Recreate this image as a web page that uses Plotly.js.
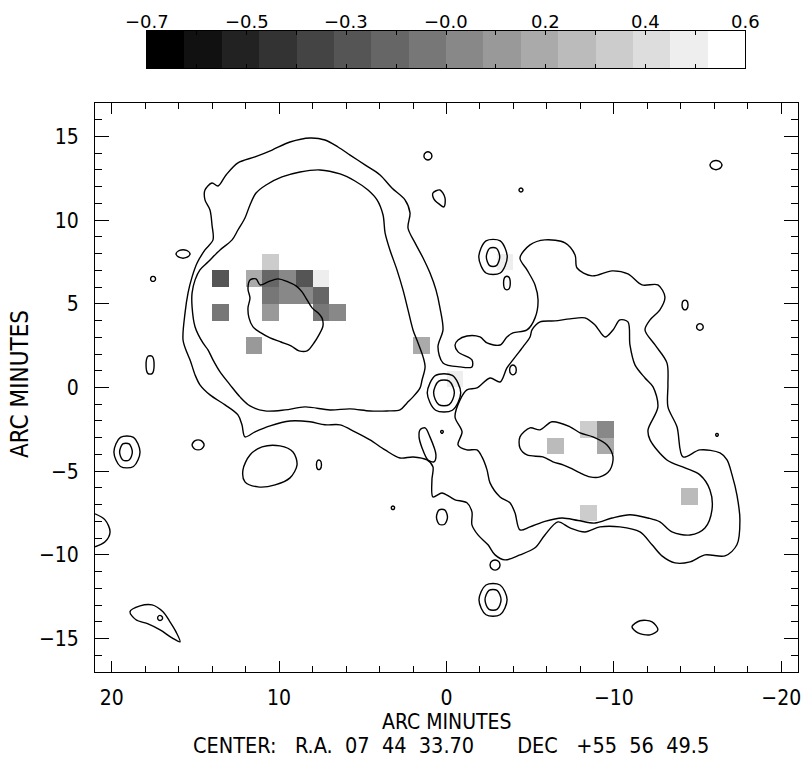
<!DOCTYPE html>
<html>
<head>
<meta charset="utf-8">
<script src="https://cdn.plot.ly/plotly-3.0.1.min.js"></script>
<style>
html,body{margin:0;padding:0;background:#fff;}
#chart{width:804px;height:758px;}
</style>
</head>
<body>
<div id="chart"></div>
<script>
// Grey wedge: 16 equal steps from black to white between levelMin and levelMax
const levelMin = -0.7;
const levelMax = 0.6;
const levelGreys = ['#000000','#111111','#222222','#333333','#444444','#555555','#666666','#777777',
                    '#888888','#999999','#aaaaaa','#bbbbbb','#cccccc','#dddddd','#eeeeee','#ffffff'];
const wedgeTickValues = [-0.7, -0.48333, -0.26667, -0.05, 0.16667, 0.38333, 0.6];
const wedgeTickLabels = ['\u22120.7','\u22120.5','\u22120.3','\u22120.0','0.2','0.4','0.6'];

// Map pixels (1 arcmin cells): centre offsets in arc minutes and value
const pixelX = [13.5, 13.5, 11.5, 10.5, 10.5, 9.5, 8.5, 7.5, 10.5, 9.5, 8.5, 7.5, 10.5, 7.5, 6.5, 11.5,
                1.5, -0.5, -3.5, -6.5, -8.5, -9.5, -9.5, -8.5, -14.5];
const pixelY = [6.5, 4.5, 6.5, 7.5, 6.5, 6.5, 6.5, 6.5, 5.5, 5.5, 5.5, 5.5, 4.5, 4.5, 4.5, 2.5,
                2.5, 0.5, 7.5, -3.5, -2.5, -2.5, -3.5, -7.5, -6.5];
const pixelValue = [-0.25, -0.09, 0.15, 0.32, -0.17, -0.01, -0.25, 0.48, -0.09, -0.01, -0.01, -0.17, 0.07, -0.09, -0.01, 0.07,
                    0.15, 0.48, 0.48, 0.23, 0.32, -0.01, 0.15, 0.32, 0.23];

// Contour paths, [x, y] in arc minutes (x = RA offset, east positive)
const outerContour = [[14.43,11.80],[14.01,12.22],[13.65,12.04],[13.17,12.70],[12.46,13.42],[11.44,13.78],[10.42,14.19],[9.35,14.67],[8.15,14.91],[7.26,14.79],[6.48,14.37],[5.76,13.89],[4.87,13.30],[3.97,12.70],[3.26,11.92],[2.48,11.21],[2.18,10.43],[2.30,9.53],[1.88,8.64],[1.40,7.74],[0.99,6.85],[0.63,5.83],[0.39,4.76],[0.21,3.44],[0.51,2.43],[0.21,1.47],[-0.81,1.23],[-1.52,1.23],[-1.52,1.65],[-0.69,2.13],[-0.51,2.54],[-0.69,2.84],[-1.22,3.08],[-2.00,3.02],[-2.42,2.66],[-3.20,2.54],[-3.61,3.02],[-3.97,3.26],[-4.81,3.44],[-5.29,4.16],[-5.47,5.23],[-5.29,6.13],[-4.81,7.03],[-4.39,7.74],[-4.99,8.52],[-5.88,8.82],[-7.08,8.64],[-7.68,7.92],[-7.80,7.14],[-8.69,6.67],[-9.89,6.97],[-10.84,6.79],[-11.68,6.13],[-12.63,6.13],[-13.05,5.41],[-12.75,4.64],[-12.16,4.04],[-11.86,3.44],[-12.46,2.54],[-13.17,1.47],[-13.23,0.16],[-13.23,-1.16],[-13.77,-2.35],[-14.13,-4.15],[-15.14,-3.73],[-16.34,-3.91],[-16.76,-4.33],[-17.06,-5.22],[-17.35,-6.42],[-17.53,-7.91],[-17.35,-9.40],[-16.64,-10.06],[-15.44,-10.00],[-14.55,-10.42],[-13.65,-10.48],[-12.87,-10.06],[-12.28,-9.40],[-11.56,-8.63],[-10.36,-8.33],[-9.17,-8.33],[-8.27,-8.63],[-7.38,-8.39],[-6.66,-8.03],[-5.88,-8.81],[-5.29,-9.58],[-4.39,-10.00],[-3.49,-10.30],[-2.90,-10.00],[-2.48,-9.40],[-1.88,-8.81],[-1.52,-8.21],[-1.52,-7.43],[-1.22,-6.89],[-0.51,-6.71],[-0.21,-6.54],[0.27,-6.30],[0.81,-6.54],[0.87,-5.52],[0.81,-4.74],[1.16,-4.33],[2.00,-4.15],[2.78,-4.21],[3.67,-3.73],[4.57,-3.13],[5.47,-2.65],[6.36,-2.23],[7.26,-2.23],[8.15,-2.05],[9.35,-2.00],[10.54,-2.29],[11.44,-2.65],[12.04,-2.95],[12.22,-2.23],[12.46,-1.64],[13.23,-1.04],[14.13,-0.44],[14.73,0.16],[15.02,0.75],[15.32,1.65],[15.50,2.07],[15.74,2.84],[15.62,4.46],[15.44,5.65],[15.20,6.61],[14.90,7.44],[14.43,8.22],[13.95,8.82],[14.01,9.71],[14.13,10.61],[14.43,11.21]];

const eastMiddle = [[12.81,8.82],[13.53,8.22],[14.25,7.50],[14.73,7.03],[15.02,6.43],[15.20,5.65],[15.20,4.81],[15.02,3.62],[14.55,2.66],[14.25,2.25],[13.95,1.65],[13.53,0.93],[12.93,0.16],[12.34,-0.56],[11.74,-1.10],[10.84,-1.40],[9.65,-1.34],[8.45,-1.16],[6.96,-1.34],[5.76,-1.28],[4.57,-1.40],[3.55,-1.40],[2.78,-1.34],[2.36,-0.92],[2.00,-0.56],[1.58,-0.02],[1.46,0.45],[1.28,1.23],[1.40,1.83],[1.70,2.66],[2.00,3.44],[2.30,4.64],[2.60,5.83],[2.96,7.03],[3.38,8.22],[3.67,9.24],[3.79,10.31],[4.15,11.21],[4.69,11.80],[5.47,12.34],[6.36,12.76],[7.56,13.00],[8.75,12.88],[9.83,12.58],[10.78,12.10],[11.38,11.62],[11.74,10.91],[12.04,10.13],[12.46,9.41]];

const eastInner = [[11.74,6.43],[11.38,6.49],[11.14,6.13],[10.66,6.31],[10.07,6.49],[9.47,6.31],[8.99,6.07],[8.63,5.71],[8.33,5.23],[8.03,4.76],[7.68,4.46],[7.44,4.16],[7.38,3.68],[7.62,3.14],[7.92,2.66],[8.33,2.19],[8.81,2.19],[9.29,2.49],[9.89,2.72],[10.54,2.96],[11.08,3.26],[11.56,3.62],[11.80,4.16],[11.86,4.76],[11.74,5.35],[11.86,5.89]];

const westMiddle = [[-5.11,3.44],[-5.59,3.92],[-6.48,3.98],[-7.38,4.10],[-8.27,4.16],[-8.87,3.74],[-9.47,3.02],[-9.95,3.44],[-10.36,4.04],[-10.84,3.92],[-10.96,2.54],[-11.26,1.35],[-11.86,0.57],[-12.34,0.04],[-12.63,-1.16],[-12.04,-2.53],[-12.16,-3.13],[-13.17,-4.33],[-14.25,-4.80],[-15.14,-5.22],[-15.74,-6.12],[-15.86,-7.31],[-15.44,-8.39],[-14.55,-8.81],[-13.47,-8.63],[-12.75,-8.03],[-12.04,-7.80],[-10.96,-7.60],[-9.89,-7.80],[-8.87,-8.10],[-7.86,-7.95],[-6.90,-7.80],[-5.88,-8.00],[-4.99,-8.33],[-4.39,-8.51],[-4.09,-7.49],[-3.79,-6.89],[-3.20,-6.54],[-2.60,-5.70],[-2.42,-4.92],[-2.12,-4.15],[-1.82,-3.73],[-1.22,-3.73],[-0.69,-3.43],[-0.93,-2.65],[-0.51,-1.76],[-0.81,-0.74],[-1.22,-0.14],[-1.82,-0.02],[-2.60,0.57],[-3.20,0.33],[-3.61,1.17],[-3.97,1.65],[-4.57,2.43],[-4.99,3.02]];

const westInner = [[-4.39,-2.95],[-4.99,-2.41],[-5.59,-2.53],[-6.30,-2.05],[-7.38,-2.35],[-7.98,-2.71],[-8.75,-2.95],[-9.59,-3.43],[-9.95,-4.15],[-9.77,-4.92],[-9.17,-5.34],[-8.57,-5.34],[-7.98,-5.10],[-7.38,-4.80],[-6.96,-4.62],[-6.36,-4.44],[-5.76,-4.15],[-4.81,-4.03],[-4.39,-3.61]];

// Small isolated contour islands
const islands = [
  [[1.35,13.84],[1.23,14.05],[0.99,14.05],[0.87,13.84],[0.99,13.63],[1.23,13.63]],
  [[0.81,11.62],[0.39,11.80],[0.09,11.33],[0.15,10.79],[0.45,10.97],[0.75,11.26]],
  [[-4.33,11.80],[-4.39,11.90],[-4.51,11.90],[-4.57,11.80],[-4.51,11.70],[-4.39,11.70]],
  [[-15.74,13.29],[-15.92,13.52],[-16.28,13.52],[-16.46,13.29],[-16.28,13.06],[-15.92,13.06]],
  [[16.16,7.98],[15.95,8.19],[15.53,8.19],[15.32,7.98],[15.53,7.77],[15.95,7.77]],
  [[17.68,6.49],[17.61,6.62],[17.46,6.62],[17.38,6.49],[17.46,6.36],[17.61,6.36]],
  [[17.95,1.35],[17.83,1.87],[17.59,1.87],[17.47,1.35],[17.59,0.83],[17.83,0.83]],
  [[19.87,-3.85],[19.48,-2.98],[18.70,-2.98],[18.31,-3.85],[18.70,-4.72],[19.48,-4.72]],
  [[19.53,-3.85],[19.34,-3.37],[18.96,-3.37],[18.77,-3.85],[18.96,-4.33],[19.34,-4.33]],
  [[15.20,-3.43],[15.02,-3.17],[14.66,-3.17],[14.48,-3.43],[14.66,-3.69],[15.02,-3.69]],
  [[7.77,-4.62],[7.70,-4.36],[7.55,-4.36],[7.47,-4.62],[7.55,-4.88],[7.70,-4.88]],
  [[3.30,-7.19],[3.25,-7.10],[3.15,-7.10],[3.10,-7.19],[3.15,-7.28],[3.25,-7.28]],
  [[18.91,-13.40],[18.31,-13.05],[17.59,-12.99],[16.94,-13.40],[16.52,-14.00],[16.16,-14.60],[15.92,-15.20],[16.40,-14.96],[17.11,-14.48],[17.83,-14.12],[18.55,-13.88]],
  [[17.26,-13.77],[17.19,-13.64],[17.04,-13.64],[16.96,-13.77],[17.04,-13.90],[17.19,-13.90]],
  [[-1.94,-12.69],[-2.36,-11.80],[-3.20,-11.80],[-3.62,-12.69],[-3.20,-13.58],[-2.36,-13.58]],
  [[-2.30,-12.69],[-2.54,-12.12],[-3.02,-12.12],[-3.26,-12.69],[-3.02,-13.26],[-2.54,-13.26]],
  [[-2.60,-10.61],[-2.75,-10.35],[-3.05,-10.35],[-3.20,-10.61],[-3.05,-10.87],[-2.75,-10.87]],
  [[-11.08,-14.30],[-11.56,-13.94],[-12.28,-14.00],[-12.63,-14.48],[-12.16,-14.78],[-11.44,-14.66]],
  [[-14.07,4.93],[-14.16,5.19],[-14.34,5.19],[-14.43,4.93],[-14.34,4.67],[-14.16,4.67]],
  [[-14.94,3.62],[-15.04,3.79],[-15.24,3.79],[-15.34,3.62],[-15.24,3.45],[-15.04,3.45]],
  [[-16.08,-2.83],[-16.12,-2.76],[-16.20,-2.76],[-16.24,-2.83],[-16.20,-2.90],[-16.12,-2.90]],
  [[12.16,-4.92],[11.74,-4.03],[11.02,-3.55],[9.95,-3.49],[9.17,-3.85],[8.93,-4.62],[9.35,-5.40],[10.24,-5.82],[11.26,-5.94],[12.04,-5.64]],
  [[-3.41,6.24],[-3.51,6.61],[-3.71,6.61],[-3.81,6.24],[-3.71,5.87],[-3.51,5.87]],
  [[-1.93,7.80],[-2.36,8.76],[-3.21,8.76],[-3.63,7.80],[-3.21,6.84],[-2.36,6.84]],
  [[-2.38,7.80],[-2.58,8.32],[-2.98,8.32],[-3.18,7.80],[-2.98,7.28],[-2.58,7.28]],
  [[-0.85,-0.32],[-0.35,0.72],[0.65,0.72],[1.15,-0.32],[0.65,-1.36],[-0.35,-1.36]],
  [[-0.47,-0.32],[-0.16,0.38],[0.46,0.38],[0.77,-0.32],[0.46,-1.02],[-0.16,-1.02]],
  [[0.35,-2.65],[0.31,-2.58],[0.23,-2.58],[0.19,-2.65],[0.23,-2.72],[0.31,-2.72]],
  [[1.58,-2.53],[1.28,-2.41],[0.99,-2.95],[0.63,-4.03],[0.75,-4.44],[1.11,-4.33],[1.46,-3.61],[1.64,-2.95]],
  [[-0.06,-7.74],[0.11,-7.31],[0.44,-7.31],[0.60,-7.74],[0.44,-8.17],[0.11,-8.17]],
  [[-3.77,1.05],[-3.87,1.31],[-4.07,1.31],[-4.17,1.05],[-4.07,0.79],[-3.87,0.79]]
];

// Contour running in from the east edge of the field
const edgeContour = [[21.0,-7.55],[20.40,-7.91],[20.10,-8.63],[20.40,-9.22],[21.0,-9.52]];

// ---- build traces ----
const closedPaths = [outerContour, eastMiddle, eastInner, westMiddle, westInner].concat(islands);
const lineX = [], lineY = [];
closedPaths.forEach(path => {
  path.concat([path[0]]).forEach(p => { lineX.push(p[0]); lineY.push(p[1]); });
  lineX.push(null); lineY.push(null);
});
edgeContour.forEach(p => { lineX.push(p[0]); lineY.push(p[1]); });

const nLevels = levelGreys.length;
const greyScale = [];
levelGreys.forEach((c, k) => { greyScale.push([k / nLevels, c], [(k + 1) / nLevels, c]); });

// 1-arcmin grid covering the field; empty cells stay blank
const gridX = [], gridY = [];
for (let i = 0; i < 42; i++) gridX.push(20.5 - i);
for (let j = 0; j < 34; j++) gridY.push(-16.5 + j);
const gridZ = gridY.map(() => gridX.map(() => null));
pixelX.forEach((x, k) => {
  const i = Math.round(20.5 - x);
  const j = Math.round(pixelY[k] + 16.5);
  gridZ[j][i] = pixelValue[k];
});

// wedge cells at the centre of each grey level
const step = (levelMax - levelMin) / nLevels;
const wedgeX = levelGreys.map((c, k) => levelMin + (k + 0.5) * step);
const wedgeZ = [wedgeX.slice()];

const condensed = 'DejaVu Sans Condensed, DejaVu Sans, sans-serif';
const tickFont = {family: condensed, size: 21, color: '#000'};
const titleFont = {family: condensed, size: 21, color: '#000'};
const wedgeFont = {family: 'DejaVu Sans, sans-serif', size: 18, color: '#000'};

const traces = [
  {
    type: 'heatmap', x: gridX, y: gridY, z: gridZ,
    zmin: levelMin, zmax: levelMax, colorscale: greyScale,
    showscale: false, hoverinfo: 'skip', xaxis: 'x', yaxis: 'y'
  },
  {
    type: 'scatter', mode: 'lines', x: lineX, y: lineY,
    line: {color: '#000', width: 1.4, shape: 'spline', smoothing: 0.9},
    connectgaps: false, hoverinfo: 'skip', xaxis: 'x', yaxis: 'y'
  },
  {
    type: 'heatmap', x: wedgeX, y: [0], z: wedgeZ,
    zmin: levelMin, zmax: levelMax, colorscale: greyScale,
    showscale: false, hoverinfo: 'skip', xaxis: 'x2', yaxis: 'y2'
  }
];

// wedge labels sit just above the wedge, centred on their tick values
const wedgeLabels = wedgeTickValues.map((v, i) => ({
  text: wedgeTickLabels[i], xref: 'x2', yref: 'paper', x: v, y: 1.0148,
  xanchor: 'center', yanchor: 'middle', showarrow: false, font: wedgeFont
}));

const layout = {
  width: 804, height: 758,
  margin: {l: 95, r: 6, t: 31, b: 86},
  paper_bgcolor: '#fff', plot_bgcolor: '#fff',
  showlegend: false,
  font: tickFont,
  xaxis: {
    domain: [0, 1], anchor: 'y', range: [21, -21],
    tickmode: 'linear', tick0: 0, dtick: 10,
    ticks: 'inside', ticklen: 11, tickwidth: 1, tickcolor: '#000',
    minor: {tickmode: 'linear', tick0: 0, dtick: 2, ticks: 'inside', ticklen: 6, tickwidth: 1, tickcolor: '#000'},
    showline: true, linecolor: '#000', linewidth: 1, mirror: 'ticks',
    showgrid: false, zeroline: false, tickfont: tickFont, ticklabelstandoff: 7
  },
  yaxis: {
    domain: [0, 0.88768], anchor: 'x', range: [-17, 17],
    tickmode: 'linear', tick0: 0, dtick: 5,
    ticks: 'inside', ticklen: 14, tickwidth: 1, tickcolor: '#000',
    minor: {tickmode: 'linear', tick0: 0, dtick: 1, ticks: 'inside', ticklen: 7, tickwidth: 1, tickcolor: '#000'},
    showline: true, linecolor: '#000', linewidth: 1, mirror: 'ticks',
    showgrid: false, zeroline: false, tickfont: tickFont, ticklabelstandoff: 11
  },
  xaxis2: {
    domain: [0.07397, 0.92461], anchor: 'y2', range: [levelMin, levelMax], side: 'top',
    tickmode: 'array', tickvals: wedgeTickValues, showticklabels: false,
    ticks: 'inside', ticklen: 4, tickwidth: 1, tickcolor: '#000',
    minor: {tickmode: 'linear', tick0: levelMin, dtick: (levelMax - levelMin) / 12, ticks: 'inside', ticklen: 4, tickwidth: 1, tickcolor: '#000'},
    showline: true, linecolor: '#000', linewidth: 1, mirror: 'ticks',
    showgrid: false, zeroline: false, fixedrange: true
  },
  yaxis2: {
    domain: [0.94228, 1], anchor: 'x2', range: [-0.5, 0.5],
    showticklabels: false, ticks: '', showline: true, linecolor: '#000', linewidth: 1, mirror: true,
    showgrid: false, zeroline: false, fixedrange: true
  },
  annotations: wedgeLabels.concat([
    {text: 'ARC MINUTES', xref: 'paper', yref: 'paper', x: 0.5, y: -0.078, xanchor: 'center', yanchor: 'middle',
     showarrow: false, font: titleFont},
    {text: 'CENTER:\u00a0\u00a0\u00a0R.A.\u00a0\u00a007\u00a0\u00a044\u00a0\u00a033.70\u00a0\u00a0\u00a0\u00a0\u00a0\u00a0\u00a0DEC\u00a0\u00a0\u00a0+55\u00a0\u00a056\u00a0\u00a049.5',
     xref: 'paper', yref: 'paper', x: 0.5064, y: -0.1154, xanchor: 'center', yanchor: 'middle',
     showarrow: false, font: {family: condensed, size: 21.5, color: '#000'}},
    {text: 'ARC MINUTES', xref: 'paper', yref: 'paper', x: -0.1067, y: 0.4493, xanchor: 'center', yanchor: 'middle',
     textangle: -90, showarrow: false, font: {family: condensed, size: 24, color: '#000'}}
  ])
};

Plotly.newPlot('chart', traces, layout, {staticPlot: true, displayModeBar: false});
</script>
</body>
</html>
